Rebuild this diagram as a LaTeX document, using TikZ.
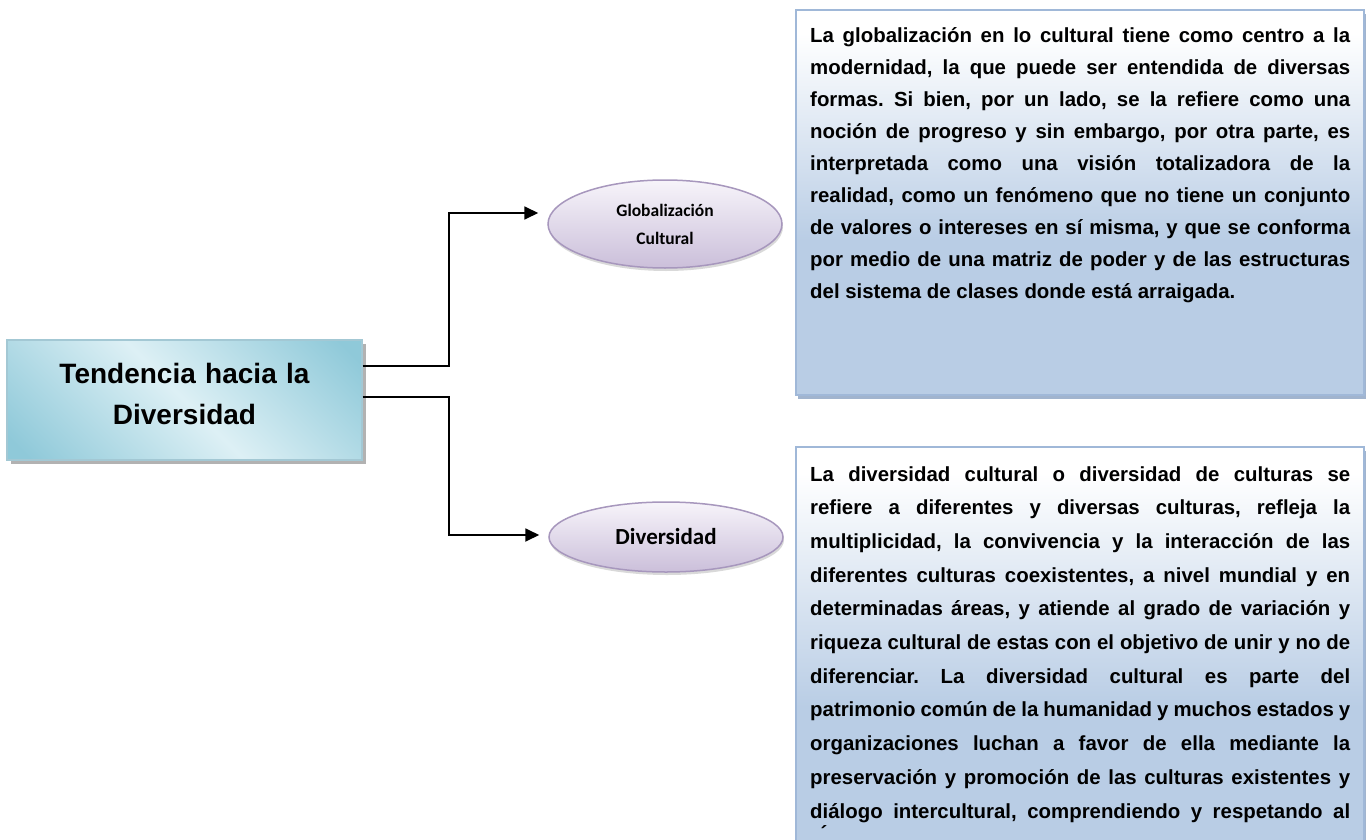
\documentclass[tikz,border=0pt]{standalone}
\usepackage{fontspec}
\setmainfont{Liberation Sans}
\newfontfamily\calib{Carlito}
\usetikzlibrary{shapes.geometric,shadows,calc,arrows.meta}
\definecolor{tealD}{HTML}{8FC9D9}
\definecolor{tealL}{HTML}{DDF0F5}
\definecolor{tealBorder}{HTML}{A3C8D4}
\definecolor{boxB}{HTML}{B9CDE5}
\definecolor{boxBorder}{HTML}{A0B8D8}
\definecolor{boxShadow}{HTML}{8AA2C2}
\definecolor{purT}{HTML}{F7F4FA}
\definecolor{purB}{HTML}{CBBFDA}
\definecolor{purBorder}{HTML}{A797BD}
\pgfdeclarehorizontalshading{tealband}{100bp}{color(0bp)=(tealD); color(18bp)=(tealD); color(50bp)=(tealL); color(82bp)=(tealD); color(100bp)=(tealD)}
\pgfdeclareverticalshading{bluebox}{100bp}{color(0bp)=(boxB); color(45bp)=(boxB); color(72bp)=(white); color(100bp)=(white)}
\frenchspacing
\newcommand{\bodypar}[2]{\parbox[t]{540pt}{\fontsize{20.4}{#1}\selectfont\bfseries\hyphenpenalty=10000\relax\exhyphenpenalty=10000\relax\tolerance=10000\relax\parindent=0pt\relax #2}}
\begin{document}
\begin{tikzpicture}[x=1pt,y=-1pt,
  leftbox/.style={rectangle, draw=tealBorder, line width=1.2pt, shading=tealband, shading angle=45,
    minimum width=355pt, minimum height=120pt, inner sep=0pt,
    drop shadow={shadow xshift=4pt, shadow yshift=-4pt, fill=black, opacity=0.3}},
  lefttext/.style={text width=340pt, align=center, inner sep=0pt,
    font=\fontsize{28}{41}\selectfont\bfseries},
  oval/.style={ellipse, draw=purBorder, line width=1.5pt, top color=purT, bottom color=purB,
    inner sep=0pt, align=center,
    drop shadow={shadow xshift=1pt, shadow yshift=-3pt, fill=black, opacity=0.15}},
  infobox/.style={rectangle, draw=boxBorder, line width=1.5pt, shading=bluebox,
    minimum width=568pt, inner sep=0pt,
    drop shadow={shadow xshift=2pt, shadow yshift=-4pt, fill=boxShadow, opacity=0.8}},
  bodytext/.style={inner sep=0pt, anchor=base west},
  conn/.style={draw=black, line width=1.8pt, -{Triangle[length=14pt,width=13pt]}}
]
\clip (0,0) rectangle (1368,840);
\fill[white] (0,0) rectangle (1368,840);

% left box
\node[leftbox] (L) at (184.5,400) {};
\node[lefttext, anchor=base] (Lt) at ($(L.center)+(0,-17)$) {Tendencia hacia la\\Diversidad};

% ellipses
\node[oval, minimum width=234pt, minimum height=88pt,
      font=\calib\bfseries\fontsize{17.5}{28}\selectfont] (E1) at (665,224) {Globalización\\Cultural};
\node[oval, minimum width=234pt, minimum height=70pt,
      font=\calib\bfseries\fontsize{23}{28}\selectfont] (E2) at (666,537) {Diversidad};

% info boxes
\node[infobox, minimum height=385pt] (B1) at (1080,202.5) {};
\node[infobox, minimum height=433pt] (B2) at (1080,663.5) {};

% connectors
\draw[conn] ($(L.east)+(0,-34)$) -| ($(E1.west)+(-98,-11)$) -- ($(E1.west)+(-9,-11)$);
\draw[conn] ($(L.east)+(0,-3)$) -| ($(E2.west)+(-99,-2)$) -- ($(E2.west)+(-9,-2)$);

% texts
\node[bodytext] (T1) at (810,43) {\bodypar{32}{La globalización en lo cultural tiene como centro a la\linebreak
modernidad, la que puede ser entendida de diversas\linebreak
formas. Si bien, por un lado, se la refiere como una\linebreak
noción de progreso y sin embargo, por otra parte, es\linebreak
interpretada como una visión totalizadora de la\linebreak
realidad, como un fenómeno que no tiene un conjunto\linebreak
de valores o intereses en sí misma, y que se conforma\linebreak
por medio de una matriz de poder y de las estructuras\linebreak
del sistema de clases donde está arraigada.}};

\node[bodytext] (T2) at (810,481) {\bodypar{33.7}{La diversidad cultural o diversidad de culturas se\linebreak
refiere a diferentes y diversas culturas, refleja la\linebreak
multiplicidad, la convivencia y la interacción de las\linebreak
diferentes culturas coexistentes, a nivel mundial y en\linebreak
determinadas áreas, y atiende al grado de variación y\linebreak
riqueza cultural de estas con el objetivo de unir y no de\linebreak
diferenciar. La diversidad cultural es parte del\linebreak
patrimonio común de la humanidad y muchos estados y\linebreak
organizaciones luchan a favor de ella mediante la\linebreak
preservación y promoción de las culturas existentes y\linebreak
diálogo intercultural, comprendiendo y respetando al\linebreak\mbox{}}};

\node[inner sep=0pt, anchor=base, font=\fontsize{20.4}{24}\selectfont\bfseries] (acc) at (824,840) {´};
\end{tikzpicture}
\end{document}
